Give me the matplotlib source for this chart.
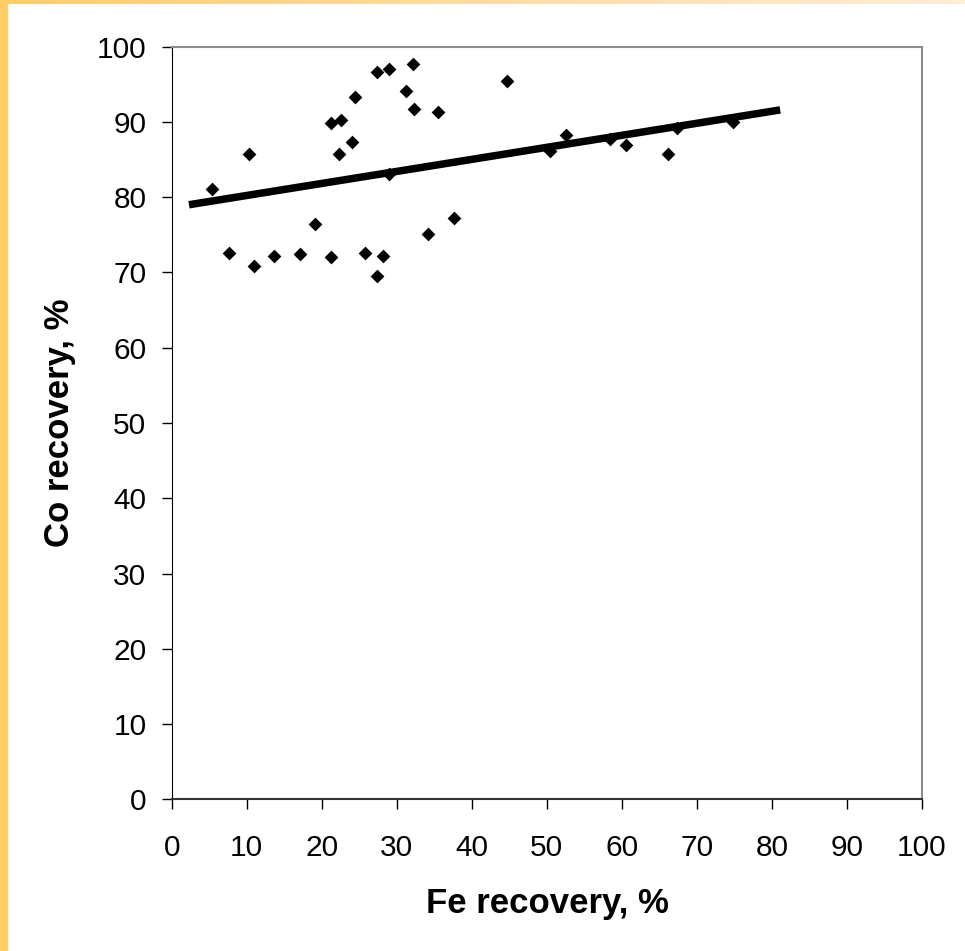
import matplotlib
matplotlib.use("Agg")
import matplotlib.pyplot as plt
import numpy as np
from matplotlib.patches import Rectangle

# Fe recovery (%) vs Co recovery (%)
fe_recovery = [5.4, 7.7, 10.3, 11.0, 13.6, 17.1, 19.1, 21.2, 21.2, 22.6, 22.3,
               24.0, 24.4, 25.7, 27.3, 27.4, 28.1, 28.9, 29.0, 31.2, 32.1, 32.3,
               34.2, 35.5, 37.6, 44.7, 50.4, 52.6, 58.4, 60.5, 66.1, 67.3, 74.8]
co_recovery = [81.1, 72.6, 85.8, 70.9, 72.2, 72.4, 76.4, 72.0, 89.9, 90.3, 85.8,
               87.3, 93.3, 72.6, 96.6, 69.5, 72.2, 83.1, 97.0, 94.1, 97.7, 91.7,
               75.1, 91.3, 77.3, 95.5, 86.1, 88.3, 87.7, 86.9, 85.7, 89.2, 90.0]

# linear trend line end points
trend_x = [2.3, 81.1]
trend_y = [79.0, 91.6]

ticks = list(range(0, 101, 10))

plt.rcParams['font.family'] = ['Liberation Sans', 'DejaVu Sans']

fig = plt.figure(figsize=(9.65, 9.51), dpi=100)

# yellow frame: left strip and top gradient
fig.patches.append(Rectangle((0, 0), 7.3 / 965, 1, transform=fig.transFigure,
                             color='#FFCC66', zorder=0))
top = fig.add_axes([0, 1 - 4.5 / 951, 1, 4.5 / 951])
grad = np.linspace(0, 1, 256)
c0 = np.array([1.0, 0.80, 0.40])
c1 = np.array([1.0, 0.93, 0.84])
img = (c0[None, :] * (1 - grad[:, None]) + c1[None, :] * grad[:, None])[None, :, :]
top.imshow(img, aspect='auto', extent=[0, 1, 0, 1])
top.axis('off')

ax = fig.add_axes([171.7 / 965, 1 - 799.3 / 951, (922 - 171.7) / 965, (799.3 - 46.7) / 951])

ax.scatter(fe_recovery, co_recovery, marker='D', s=7 ** 2, color='black',
           linewidths=0, zorder=3)
ax.plot(trend_x, trend_y, color='black', lw=5.4, solid_capstyle='butt', zorder=4)

ax.set_xlim(0, 100)
ax.set_ylim(0, 100)
ax.set_xticks(ticks)
ax.set_yticks(ticks)
ax.tick_params(direction='out', length=7.2, width=1, labelsize=21.5, color='black')
ax.tick_params(axis='x', pad=18)
ax.tick_params(axis='y', pad=11)

ax.spines['left'].set_color('black')
ax.spines['bottom'].set_color('#333333')
ax.spines['bottom'].set_linewidth(1.5)
for s in ['top', 'right']:
    ax.spines[s].set_color('#8c8c8c')
    ax.spines[s].set_linewidth(1.5)

fig.text(547.8 / 965, 1 - 903 / 951, 'Fe recovery, %', fontsize=25,
         fontweight='bold', ha='center', va='center')
fig.text(59 / 965, 1 - 423 / 951, 'Co recovery, %', fontsize=25,
         fontweight='bold', ha='center', va='center', rotation=90)

fig.savefig('out.png', dpi=100)
